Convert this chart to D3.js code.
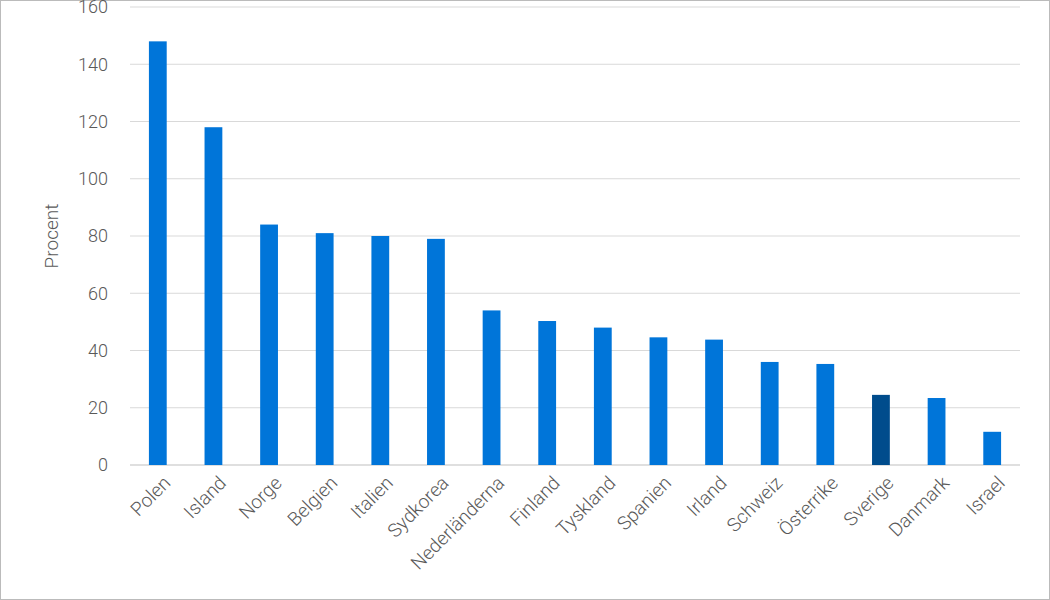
<!DOCTYPE html>
<html><head><meta charset="utf-8">
<script src="https://cdn.jsdelivr.net/npm/d3@7"></script>
<style>body{margin:0;background:#fff}svg{display:block;font-family:Roboto,sans-serif}</style>
</head><body><svg id="c" width="1050" height="600"></svg>
<script>
const countries = ['Polen','Island','Norge','Belgien','Italien','Sydkorea','Nederländerna','Finland','Tyskland','Spanien','Irland','Schweiz','Österrike','Sverige','Danmark','Israel'];
const values = [148,118,84,81,80,79,54,50.3,48,44.6,43.8,36,35.3,24.5,23.4,11.6];
const yTicks = [0,20,40,60,80,100,120,140,160];

const svg = d3.select('#c');
const margin = {left:130, right:30, top:7, bottom:135};
const w = 1050, h = 600;

svg.append('rect').attr('x',0.5).attr('y',0.5).attr('width',w-1).attr('height',h-1)
  .attr('fill','none').attr('stroke','#bbb');

const x = d3.scaleBand().domain(countries).range([margin.left, w-margin.right]).paddingInner(0.68).paddingOuter(0.34);
const y = d3.scaleLinear().domain([0,160]).range([h-margin.bottom, margin.top]);

// grid
svg.append('g').selectAll('line').data(yTicks).join('line')
  .attr('x1',margin.left).attr('x2',w-margin.right)
  .attr('y1',d=>y(d)).attr('y2',d=>y(d))
  .attr('stroke',d=>d===0?'#bfbfbf':'#d9d9d9');

const yAxis = svg.append('g').attr('transform',`translate(${margin.left},0)`)
  .call(d3.axisLeft(y).tickValues(yTicks).tickSize(0).tickPadding(22));
yAxis.select('.domain').remove();
yAxis.selectAll('text').attr('font-size',18).attr('font-weight',300).attr('fill','#595959').attr('font-family','Roboto');

svg.append('text').attr('transform',`translate(58,${y(80)}) rotate(-90)`)
  .attr('text-anchor','middle').attr('font-size',19).attr('font-weight',300).attr('fill','#595959').text('Procent');

svg.append('g').selectAll('rect').data(countries).join('rect')
  .attr('x',d=>x(d)).attr('width',x.bandwidth())
  .attr('y',(d,i)=>y(values[i])).attr('height',(d,i)=>y(0)-y(values[i]))
  .attr('fill',d=>d==='Sverige'?'#004c8c':'#0075d9');

const xAxis = svg.append('g').attr('transform',`translate(0,${y(0)})`)
  .call(d3.axisBottom(x).tickSize(0).tickPadding(12));
xAxis.select('.domain').remove();
xAxis.selectAll('text').attr('font-size',19).attr('font-weight',300).attr('fill','#595959').attr('font-family','Roboto')
  .attr('text-anchor','end').attr('dy','0.6em').attr('dx','-0.2em')
  .attr('transform','rotate(-45)');
</script></body></html>
